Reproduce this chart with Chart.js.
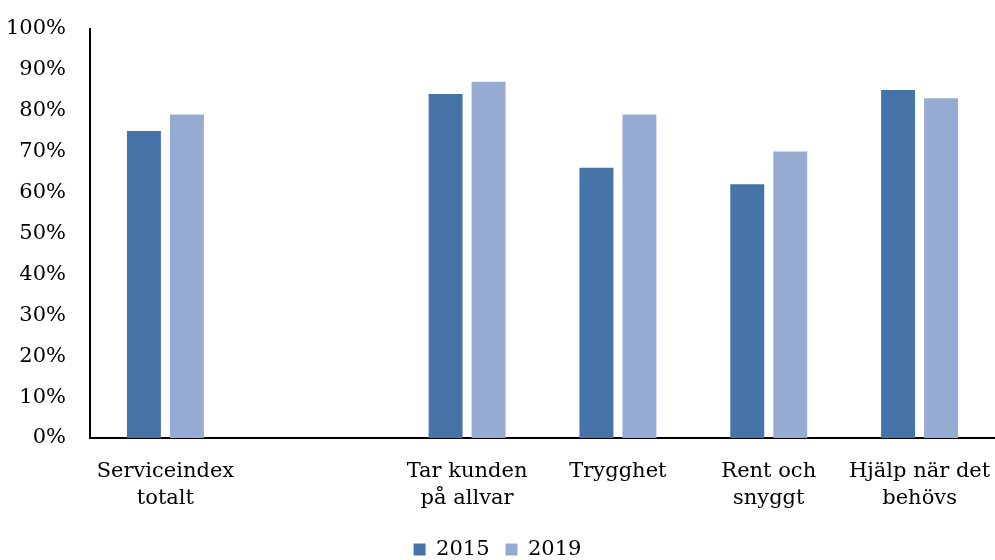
<!DOCTYPE html>
<html>
<head>
<meta charset="utf-8">
<script src="https://cdn.jsdelivr.net/npm/chart.js@4"></script>
<style>
  body { margin: 0; background: #fff; }
  #wrap { width: 995px; height: 560px; }
</style>
</head>
<body>
<div id="wrap"><canvas id="myChart" width="995" height="560"></canvas></div>
<script>
// data
var kategorier = [
    ["Serviceindex", "totalt"],
    "",
    ["Tar kunden", "på allvar"],
    "Trygghet",
    ["Rent och", "snyggt"],
    ["Hjälp när det", "behövs"]
];
var varden2015 = [75, null, 84, 66, 62, 85];
var varden2019 = [79, null, 87, 79, 70, 83];
var yTicks = [0, 10, 20, 30, 40, 50, 60, 70, 80, 90, 100];

var typsnitt = "'DejaVu Serif', serif";
Chart.defaults.font.family = typsnitt;
Chart.defaults.color = '#000';

const ctx = document.getElementById('myChart').getContext('2d');
const myChart = new Chart(ctx, {
    type: 'bar',
    data: {
        labels: kategorier,
        datasets: [{
            label: '2015',
            data: varden2015,
            backgroundColor: '#4673a8',
            categoryPercentage: 0.57,
            barPercentage: 0.79
        }, {
            label: '2019',
            data: varden2019,
            backgroundColor: '#95abd2',
            categoryPercentage: 0.57,
            barPercentage: 0.79
        }]
    },
    options: {
        responsive: false,
        animation: false,
        layout: { padding: { top: 1, right: 0, left: 0, bottom: -10 } },
        plugins: {
            tooltip: { enabled: false },
            legend: {
                position: 'bottom',
                labels: {
                    font: { size: 21 },
                    boxWidth: 12,
                    boxHeight: 12,
                    padding: 16
                }
            }
        },
        scales: {
            x: {
                grid: { display: false },
                border: { display: true, color: '#000', width: 2 },
                ticks: { font: { size: 21, lineHeight: 1.3 }, padding: 12, maxRotation: 0, autoSkip: false },
                afterFit: function(s) { s.height = 85; s.paddingRight = 0; s.paddingLeft = 0; }
            },
            y: {
                min: 0,
                max: 100,
                grid: { display: false },
                border: { display: true, color: '#000', width: 2 },
                afterBuildTicks: function(s) { s.ticks = yTicks.map(function(v) { return { value: v }; }); },
                ticks: {
                    font: { size: 21 },
                    padding: 16,
                    callback: function(v) { return v + '%'; }
                },
                afterFit: function(s) { s.width = 90; }
            }
        }
    }
});
</script>
</body>
</html>
